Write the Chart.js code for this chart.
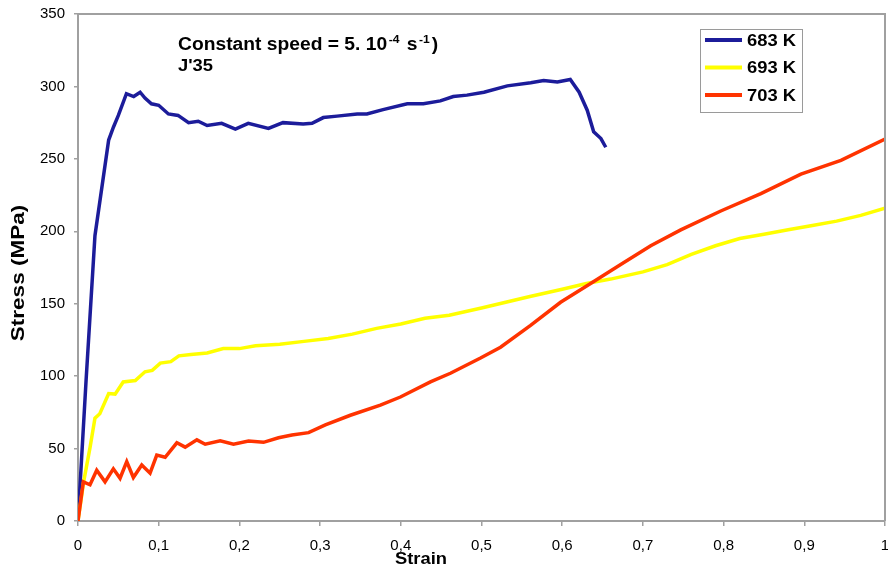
<!DOCTYPE html>
<html>
<head>
<meta charset="utf-8">
<title>Stress–strain curves, J'35</title>
<script src="https://cdn.jsdelivr.net/npm/chart.js@4/dist/chart.umd.min.js"></script>
<style>
  html, body { margin: 0; padding: 0; background: #ffffff; }
  #wrap { width: 888px; height: 571px; }
</style>
</head>
<body>
<div id="wrap"><canvas id="c" width="888" height="571"></canvas></div>
<script>
// Tensile tests at constant speed, three temperatures
const seriesLabels = ['683 K', '693 K', '703 K'];
const seriesColors = ['#1c1c9a', '#ffff00', '#ff3300'];

const strain683 = [0, 0.010, 0.021, 0.038, 0.044, 0.050, 0.060, 0.069, 0.077, 0.083, 0.091, 0.100, 0.112, 0.124, 0.137, 0.149, 0.160, 0.178, 0.195, 0.211, 0.236, 0.254, 0.279, 0.290, 0.304, 0.321, 0.346, 0.358, 0.378, 0.408, 0.428, 0.449, 0.465, 0.482, 0.503, 0.532, 0.561, 0.577, 0.594, 0.610, 0.621, 0.631, 0.639, 0.648, 0.654];
const stress683 = [0, 97, 197, 263, 272, 280, 295, 293, 296, 292, 288, 287, 281, 280, 275, 276, 273, 274.5, 270.5, 274.5, 271, 275, 274, 274.5, 278.5, 279.5, 281, 281, 284, 288, 288, 290, 293, 294, 296, 300.4, 302.5, 304, 303, 304.8, 296, 283.6, 268.7, 264, 258];

const strain693 = [0, 0.007, 0.015, 0.021, 0.027, 0.038, 0.046, 0.056, 0.071, 0.083, 0.092, 0.102, 0.115, 0.125, 0.14, 0.16, 0.18, 0.2, 0.22, 0.25, 0.28, 0.31, 0.34, 0.37, 0.4, 0.43, 0.46, 0.5, 0.53, 0.56, 0.6, 0.63, 0.66, 0.7, 0.73, 0.76, 0.79, 0.82, 0.85, 0.88, 0.91, 0.94, 0.97, 1.0];
const stress693 = [0, 27, 51, 71, 74, 88, 87.6, 96, 97, 103, 104, 109, 110, 114, 115, 116, 119, 119, 121, 122, 124, 126, 129, 133, 136, 140, 142, 147, 151, 155, 160, 164, 167, 172, 177, 184, 190, 195, 198, 201, 204, 207, 211, 216];

const strain703 = [0, 0.0066, 0.0149, 0.0232, 0.0335, 0.0438, 0.0521, 0.0604, 0.0686, 0.079, 0.0893, 0.0976, 0.108, 0.1225, 0.1328, 0.1473, 0.1576, 0.1762, 0.1927, 0.2113, 0.2299, 0.2485, 0.2651, 0.2857, 0.3065, 0.3375, 0.3747, 0.3995, 0.4367, 0.4615, 0.4988, 0.5236, 0.5608, 0.598, 0.6352, 0.6725, 0.7097, 0.7469, 0.7965, 0.8462, 0.8958, 0.9454, 1.0];
const stress703 = [0, 27, 25, 35, 27, 36, 29.5, 41, 30, 38.6, 33, 45.5, 44, 54, 51, 56, 53, 55.4, 53, 55.2, 54.3, 57.5, 59.4, 61, 66.3, 73, 80, 85.6, 96, 102, 112.5, 120, 135, 151, 164, 177, 190, 201, 214, 226, 239.5, 249, 263.6];

// Axis ticks
const strainTicks = [0, 0.1, 0.2, 0.3, 0.4, 0.5, 0.6, 0.7, 0.8, 0.9, 1];
const stressTicks = [0, 50, 100, 150, 200, 250, 300, 350];

const titleLine1 = ['Constant speed = 5. 10', '-4', ' s', '-1', ')'];
const titleLine2 = "J'35";
const xTitle = 'Strain';
const yTitle = 'Stress (MPa)';

const pairs = (xs, ys) => xs.map((x, i) => ({ x: x, y: ys[i] }));
const strainLabel = v => (v === 0 || v === 1) ? String(v) : v.toFixed(1).replace('.', ',');

const AXIS_GREY = '#a0a0a0';
const FONT = '"Liberation Sans", Arial, sans-serif';
const SX = 1.1; // slight horizontal widening of the bold captions

function wideText(ctx, text, x, y, sx) {
  ctx.save();
  ctx.translate(x, y);
  ctx.scale(sx, 1);
  ctx.fillText(text, 0, 0);
  ctx.restore();
  return ctx.measureText(text).width * sx;
}

const decorations = {
  id: 'decorations',
  afterDraw(chart) {
    const ctx = chart.ctx;
    const a = chart.chartArea;
    ctx.save();

    // top and right frame of the plot area
    ctx.strokeStyle = AXIS_GREY;
    ctx.lineWidth = 2;
    ctx.beginPath();
    ctx.moveTo(a.left, a.top);
    ctx.lineTo(a.right, a.top);
    ctx.lineTo(a.right, a.bottom);
    ctx.stroke();

    ctx.fillStyle = '#000';
    ctx.textBaseline = 'alphabetic';
    ctx.textAlign = 'left';

    // caption with superscripts
    const big = 'bold 17.5px ' + FONT;
    const small = 'bold 11px ' + FONT;
    let x = 178, y = 50;
    titleLine1.forEach((part, i) => {
      const sup = (i === 1 || i === 3);
      ctx.font = sup ? small : big;
      if (sup) x += 1.5;
      x += wideText(ctx, part, x, sup ? y - 7 : y, SX);
      if (sup) x += 2;
    });
    ctx.font = 'bold 17px ' + FONT;
    wideText(ctx, titleLine2, 178, 71, 1.08);

    // legend box
    ctx.strokeStyle = '#9a9a9a';
    ctx.lineWidth = 1;
    ctx.strokeRect(700.5, 29.5, 102, 83);
    chart.data.datasets.forEach((ds, i) => {
      const ly = 40 + i * 27.5;
      ctx.strokeStyle = ds.borderColor;
      ctx.lineWidth = 4;
      ctx.beginPath();
      ctx.moveTo(705, ly);
      ctx.lineTo(742, ly);
      ctx.stroke();
      ctx.fillStyle = '#000';
      ctx.font = 'bold 17px ' + FONT;
      ctx.textBaseline = 'middle';
      wideText(ctx, ds.label, 747, ly + 1, 1.08);
    });

    // axis titles
    ctx.textBaseline = 'middle';
    ctx.font = 'bold 17px ' + FONT;
    const xw = ctx.measureText(xTitle).width * 1.08;
    wideText(ctx, xTitle, 421 - xw / 2, 559, 1.08);

    ctx.save();
    ctx.translate(19, 273);
    ctx.rotate(-Math.PI / 2);
    ctx.scale(1.25, 1.05);
    ctx.font = 'bold 18px ' + FONT;
    ctx.textAlign = 'center';
    ctx.fillText(yTitle, 0, 0);
    ctx.restore();

    ctx.restore();
  }
};

const lineStyle = { showLine: true, pointRadius: 0, pointHoverRadius: 0, borderWidth: 3.5, tension: 0, fill: false };

new Chart(document.getElementById('c'), {
  type: 'scatter',
  data: {
    datasets: [
      Object.assign({ label: seriesLabels[0], data: pairs(strain683, stress683), borderColor: seriesColors[0], backgroundColor: seriesColors[0], order: 2 }, lineStyle),
      Object.assign({ label: seriesLabels[1], data: pairs(strain693, stress693), borderColor: seriesColors[1], backgroundColor: seriesColors[1], order: 1 }, lineStyle),
      Object.assign({ label: seriesLabels[2], data: pairs(strain703, stress703), borderColor: seriesColors[2], backgroundColor: seriesColors[2], order: 0 }, lineStyle)
    ]
  },
  options: {
    responsive: false,
    animation: false,
    devicePixelRatio: 1,
    layout: { padding: { top: 14, right: 3, left: 0, bottom: 0 } },
    plugins: { legend: { display: false }, title: { display: false }, tooltip: { enabled: false } },
    scales: {
      x: {
        type: 'linear',
        min: strainTicks[0],
        max: strainTicks[strainTicks.length - 1],
        afterBuildTicks: s => { s.ticks = strainTicks.map(v => ({ value: v })); },
        afterFit: s => { s.height = 50; s.paddingLeft = 0; s.paddingRight = 0; },
        ticks: {
          callback: v => strainLabel(v),
          color: '#000',
          font: { family: FONT, size: 15 },
          padding: 11,
          maxRotation: 0,
          autoSkip: false
        },
        grid: { drawOnChartArea: false, drawTicks: true, tickLength: 5, color: AXIS_GREY, lineWidth: 1.5 },
        border: { display: true, color: AXIS_GREY, width: 2 }
      },
      y: {
        type: 'linear',
        min: stressTicks[0],
        max: stressTicks[stressTicks.length - 1],
        afterBuildTicks: s => { s.ticks = stressTicks.map(v => ({ value: v })); },
        afterFit: s => { s.width = 78; s.paddingTop = 0; s.paddingBottom = 0; },
        ticks: {
          color: '#000',
          font: { family: FONT, size: 15 },
          padding: 9
        },
        grid: { drawOnChartArea: false, drawTicks: true, tickLength: 4, color: AXIS_GREY, lineWidth: 1.5 },
        border: { display: true, color: AXIS_GREY, width: 2 }
      }
    }
  },
  plugins: [decorations]
});
</script>
</body>
</html>
